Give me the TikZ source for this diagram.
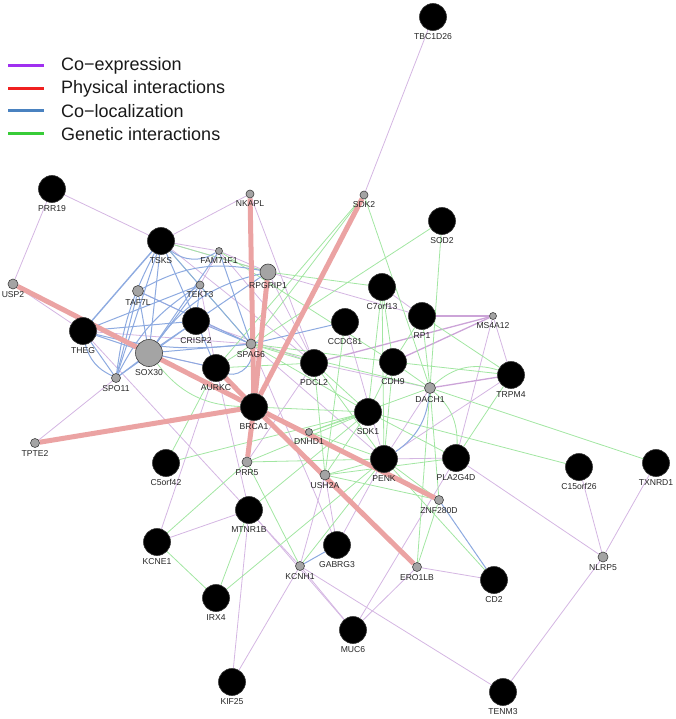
\documentclass[tikz,border=0pt]{standalone}
\usepackage{fontspec}
\setmainfont{Liberation Sans}
\definecolor{cxc}{HTML}{D4B6E2}
\definecolor{gec}{HTML}{A2E6A2}
\definecolor{clc}{HTML}{8DAAE0}
\definecolor{phc}{HTML}{EBA3A3}
\definecolor{legcx}{HTML}{A030F0}
\definecolor{legph}{HTML}{F02020}
\definecolor{legcl}{HTML}{4A82C0}
\definecolor{legge}{HTML}{38CC38}
\definecolor{ngray}{HTML}{A4A4A4}
\pgfdeclarelayer{edges}
\pgfsetlayers{edges,main}
\begin{document}
\begin{tikzpicture}[x=1pt,y=-1pt,
  big/.style={circle, fill=black, draw=black!80, line width=0.6pt, minimum size=27pt, inner sep=0pt},
  gn/.style={circle, fill=ngray, draw=black!75, line width=0.6pt, minimum size=#1, inner sep=0pt},
  every label/.style={font=\fontsize{8.6}{9}\selectfont, text=black!85, inner sep=0pt},
  label distance=2.2pt,
  cx/.style={draw=cxc, line width=0.8pt},
  cxb/.style={draw=cxc!90!violet, line width=1.3pt},
  ge/.style={draw=gec, line width=0.8pt},
  cl/.style={draw=clc, line width=1pt},
  ph/.style={draw=phc, line width=5pt},
  legline/.style={line width=3pt},
  legtext/.style={anchor=west, font=\fontsize{18}{20}\selectfont, text=black!90, inner sep=0pt}
]
\useasboundingbox (0,0) rectangle (675,719);

% legend
\draw[legline, legcx] (8,66) -- (44,66);
\draw[legline, legph] (8,89) -- (44,89);
\draw[legline, legcl] (8,111) -- (44,111);
\draw[legline, legge] (8,134) -- (44,134);
\node[legtext] (lg1) at (61,66) {Co−expression};
\node[legtext] (lg2) at (61,89) {Physical interactions};
\node[legtext] (lg3) at (61,111) {Co−localization};
\node[legtext] (lg4) at (61,134) {Genetic interactions};

% nodes
\node[big, label=below:TBC1D26] (TBC1D26) at (433,17) {};
\node[big, label=below:PRR19] (PRR19) at (52,189) {};
\node[big, label=below:TSKS] (TSKS) at (161,241) {};
\node[gn=8pt, label=below:NKAPL] (NKAPL) at (250,194) {};
\node[gn=8pt, label=below:SDK2] (SDK2) at (364,195) {};
\node[big, label=below:SOD2] (SOD2) at (442,221) {};
\node[gn=7pt, label=below:FAM71F1] (FAM71F1) at (219,251) {};
\node[gn=10pt, label=below:USP2] (USP2) at (13,284) {};
\node[gn=16pt, label=below:RPGRIP1] (RPGRIP1) at (268,272) {};
\node[gn=11pt, label=below:TAF7L] (TAF7L) at (138,291) {};
\node[gn=8pt, label=below:TEKT3] (TEKT3) at (200,285) {};
\node[big, label=below:C7orf13] (C7orf13) at (382,287) {};
\node[big, label=below:RP1] (RP1) at (422,316) {};
\node[gn=7pt, label=below:MS4A12] (MS4A12) at (493,316) {};
\node[big, label=below:CCDC81] (CCDC81) at (345,322) {};
\node[big, label=below:THEG] (THEG) at (83,331) {};
\node[big, label=below:CRISP2] (CRISP2) at (196,321) {};
\node[gn=27pt, label=below:SOX30] (SOX30) at (149,353) {};
\node[gn=10pt, label=below:SPAG6] (SPAG6) at (251,344) {};
\node[big, label=below:PDCL2] (PDCL2) at (314,363) {};
\node[big, label=below:CDH9] (CDH9) at (393,362) {};
\node[gn=11pt, label=below:DACH1] (DACH1) at (430,388) {};
\node[big, label=below:TRPM4] (TRPM4) at (511,375) {};
\node[gn=9pt, label=below:SPO11] (SPO11) at (116,378) {};
\node[big, label=below:AURKC] (AURKC) at (216,368) {};
\node[big, label=below:BRCA1] (BRCA1) at (254,407) {};
\node[big, label=below:SDK1] (SDK1) at (368,412) {};
\node[gn=7pt, label=below:DNHD1] (DNHD1) at (309,432) {};
\node[gn=9pt, label=below:TPTE2] (TPTE2) at (35,443) {};
\node[gn=10pt, label=below:PRR5] (PRR5) at (247,462) {};
\node[big, label=below:PENK] (PENK) at (384,459) {};
\node[big, label=below:PLA2G4D] (PLA2G4D) at (456,458) {};
\node[big, label=below:C5orf42] (C5orf42) at (166,463) {};
\node[big, label=below:C15orf26] (C15orf26) at (579,467) {};
\node[big, label=below:TXNRD1] (TXNRD1) at (656,463) {};
\node[gn=10pt, label=below:USH2A] (USH2A) at (325,475) {};
\node[gn=9pt, label=below:ZNF280D] (ZNF280D) at (439,500) {};
\node[big, label=below:MTNR1B] (MTNR1B) at (249,510) {};
\node[big, label=below:KCNE1] (KCNE1) at (157,542) {};
\node[big, label=below:GABRG3] (GABRG3) at (337,545) {};
\node[gn=9pt, label=below:KCNH1] (KCNH1) at (300,566) {};
\node[gn=9pt, label=below:ERO1LB] (ERO1LB) at (417,567) {};
\node[big, label=below:CD2] (CD2) at (494,580) {};
\node[gn=10pt, label=below:NLRP5] (NLRP5) at (603,557) {};
\node[big, label=below:IRX4] (IRX4) at (216,598) {};
\node[big, label=below:MUC6] (MUC6) at (353,630) {};
\node[big, label=below:KIF25] (KIF25) at (232,682) {};
\node[big, label=below:TENM3] (TENM3) at (503,692) {};

\begin{pgfonlayer}{edges}
% co-expression
\foreach \a/\b in {TBC1D26/SDK2, PRR19/USP2, PRR19/TSKS, USP2/THEG, NKAPL/TSKS, NKAPL/PDCL2,
  NKAPL/SPAG6, TSKS/FAM71F1, TSKS/RPGRIP1, TSKS/PDCL2, FAM71F1/PDCL2, FAM71F1/TEKT3,
  FAM71F1/RPGRIP1, TEKT3/AURKC, RPGRIP1/RP1, RPGRIP1/PDCL2, THEG/KCNH1, SOX30/AURKC,
  SPO11/TPTE2, SPAG6/PENK, AURKC/MTNR1B, AURKC/KCNE1, PDCL2/DACH1,
  C7orf13/RP1, CCDC81/PENK, MS4A12/TRPM4, MS4A12/PLA2G4D, TRPM4/PENK,
  PENK/PLA2G4D, PLA2G4D/NLRP5, PLA2G4D/MUC6, C15orf26/NLRP5, TXNRD1/NLRP5, NLRP5/TENM3,
  KCNE1/MTNR1B, MTNR1B/KIF25, MTNR1B/MUC6, KCNH1/KIF25, KCNH1/MUC6, KCNH1/TENM3,
  KCNH1/USH2A, USH2A/GABRG3, GABRG3/PENK, ERO1LB/CD2, ERO1LB/MUC6, PDCL2/PRR5,
  DACH1/PENK, TAF7L/SPAG6, CRISP2/PDCL2, THEG/SPAG6, SPAG6/GABRG3}
  \draw[cx] (\a) -- (\b);
\foreach \a/\b in {PDCL2/MS4A12, CDH9/MS4A12, RP1/MS4A12, DACH1/TRPM4}
  \draw[cxb] (\a) -- (\b);
% genetic
\foreach \a/\b in {TSKS/RPGRIP1, RPGRIP1/C7orf13, AURKC/SDK2, SOD2/AURKC, SDK2/DACH1,
  SOD2/DACH1, SPAG6/PDCL2, SPAG6/CDH9, SPAG6/SDK1, SPAG6/DACH1, AURKC/PDCL2,
  AURKC/C5orf42, C5orf42/SDK1, KCNE1/PRR5, KCNE1/IRX4, MTNR1B/IRX4, MTNR1B/SDK1,
  IRX4/PENK, KCNH1/PRR5, KCNH1/PENK, PRR5/SDK1, PRR5/PENK, BRCA1/SDK1,
  DNHD1/SDK1, DNHD1/PENK, DNHD1/DACH1, USH2A/SDK1, USH2A/PENK, USH2A/PLA2G4D,
  USH2A/ZNF280D, PDCL2/USH2A, PDCL2/PENK, PDCL2/SDK1, C7orf13/PENK, C7orf13/SDK1,
  C7orf13/CDH9, CDH9/SDK1, CDH9/PENK, CDH9/DACH1, CDH9/TRPM4, RP1/CDH9, RP1/DACH1,
  RP1/TRPM4, DACH1/TXNRD1, DACH1/ERO1LB, DACH1/ZNF280D, SDK1/C15orf26,
  TRPM4/PLA2G4D, PENK/ZNF280D, PENK/CD2, ERO1LB/ZNF280D, SDK1/PLA2G4D,
  CCDC81/USH2A, SPAG6/TSKS, FAM71F1/CDH9}
  \draw[ge] (\a) -- (\b);
\draw[ge] (SOX30) to[bend right=25] (BRCA1);
\draw[ge] (DACH1) to[bend left=30] (TRPM4);
\draw[ge] (DACH1) to[bend left=25] (PLA2G4D);
\draw[ge] (SDK2) -- (SPAG6);
% co-localization
\foreach \a/\b in {TSKS/SOX30, TSKS/CRISP2, TSKS/SPAG6, TSKS/SPO11, TAF7L/SPO11,
  TAF7L/SOX30, TAF7L/SPAG6, TEKT3/THEG, TEKT3/SOX30, TEKT3/CRISP2, FAM71F1/SPAG6,
  FAM71F1/SOX30, RPGRIP1/CRISP2, THEG/SOX30, THEG/CRISP2, SOX30/SPAG6,
  SOX30/CRISP2, SOX30/SPO11, SPO11/CRISP2, CRISP2/SPAG6, CRISP2/AURKC, SPAG6/CCDC81,
  ZNF280D/CD2, KCNH1/GABRG3, THEG/SPO11, SOX30/AURKC}
  \draw[cl] (\a) -- (\b);
\draw[cl, line width=1.4pt] (TSKS) -- (THEG);
\draw[cl] (TSKS) to[bend right=10] (SPO11);
\draw[cl] (TSKS) to[bend right=35] (FAM71F1);
\draw[cl] (TAF7L) to[bend left=20] (RPGRIP1);
\draw[cl] (TEKT3) to[bend right=15] (SPO11);
\draw[cl] (RPGRIP1) to[bend right=20] (SOX30);
\draw[cl] (THEG) to[bend right=25] (SPO11);
\draw[cl] (SPAG6) to[bend left=60] (AURKC);
\draw[cl] (DACH1) to[bend left=25] (PENK);
\draw[cl] (THEG) to[bend right=10] (SPAG6);
% physical
\foreach \a/\b in {USP2/BRCA1, TPTE2/BRCA1, NKAPL/BRCA1, RPGRIP1/BRCA1, SDK2/BRCA1,
  AURKC/BRCA1, BRCA1/PRR5, BRCA1/ZNF280D, BRCA1/ERO1LB}
  \draw[ph] (\a) -- (\b);
\end{pgfonlayer}
\end{tikzpicture}
\end{document}
